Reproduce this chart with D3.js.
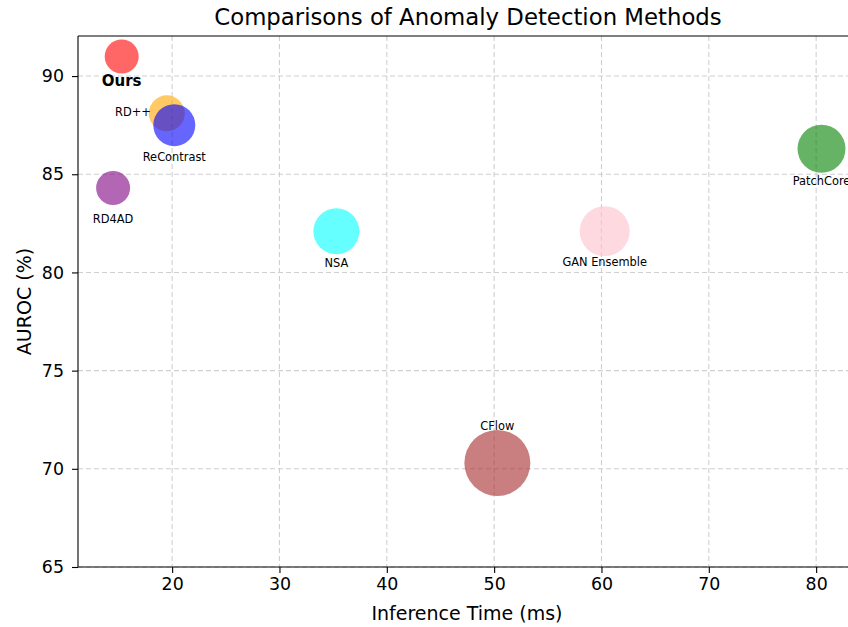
<!DOCTYPE html>
<html>
<head>
<meta charset="utf-8">
<script src="https://cdn.jsdelivr.net/npm/d3@7"></script>
<style>
  html, body { margin: 0; padding: 0; background: #fff; }
  svg { display: block; font-family: "DejaVu Sans", sans-serif; }
</style>
</head>
<body>
<svg id="chart" width="848" height="627"></svg>
<script>
// ---- data ----
const methods = ["Ours", "RD++", "ReContrast", "RD4AD", "NSA", "GAN Ensemble", "PatchCore", "CFlow"];
const inferenceTime = [15.3, 19.5, 20.2, 14.5, 35.3, 60.3, 80.5, 50.3];
const auroc = [91.0, 88.1, 87.5, 84.3, 82.1, 82.1, 86.3, 70.3];
const bubbleSize = [289, 324, 441, 289, 529, 625, 576, 1089];
const colors = ["#ff0000", "#ffa500", "#0000ff", "#800080", "#00ffff", "#ffc0cb", "#008000", "#a52a2a"];
const xTicks = [20, 30, 40, 50, 60, 70, 80];
const yTicks = [65, 70, 75, 80, 85, 90];

// label placement (styling)
const labelStyle = {
  "Ours": { dx: 0, dy: 25, anchor: "middle", bold: true },
  "RD++": { dx: -16, dy: -1.5, anchor: "end" },
  "ReContrast": { dx: 0, dy: 32, anchor: "middle" },
  "RD4AD": { dx: 0, dy: 31, anchor: "middle" },
  "NSA": { dx: 0, dy: 32, anchor: "middle" },
  "GAN Ensemble": { dx: 0, dy: 31, anchor: "middle" },
  "PatchCore": { dx: 0, dy: 32, anchor: "middle" },
  "CFlow": { dx: 0, dy: -37, anchor: "middle" }
};

const svg = d3.select("#chart");
const L = 78, R = 858, T = 36, B = 567;

const x = d3.scaleLinear().domain([11.23, 83.9]).range([L, R]);
const y = d3.scaleLinear().domain([65, 92.04]).range([B, T]);
const r = d3.scaleSqrt().domain([0, 1089]).range([0, 33]);

// grid
const grid = svg.append("g");
grid.selectAll("line.gx").data(xTicks).join("line")
  .attr("x1", d => x(d)).attr("x2", d => x(d)).attr("y1", T).attr("y2", B)
  .attr("stroke", "#cfcfcf").attr("stroke-width", 1.1).attr("stroke-dasharray", "5,3");
grid.selectAll("line.gy").data(yTicks).join("line")
  .attr("y1", d => y(d)).attr("y2", d => y(d)).attr("x1", L).attr("x2", R)
  .attr("stroke", "#cfcfcf").attr("stroke-width", 1.1).attr("stroke-dasharray", "5,3");

// bubbles
const data = methods.map((m, i) => ({ m, t: inferenceTime[i], a: auroc[i], s: bubbleSize[i], c: colors[i] }));
svg.append("defs").append("clipPath").attr("id", "clip")
  .append("rect").attr("x", L).attr("y", T).attr("width", R - L).attr("height", B - T);
svg.append("g").attr("clip-path", "url(#clip)")
  .selectAll("circle").data(data).join("circle")
  .attr("cx", d => x(d.t)).attr("cy", d => y(d.a)).attr("r", d => r(d.s))
  .attr("fill", d => d.c).attr("fill-opacity", 0.6);

// labels
svg.append("g").selectAll("text").data(data).join("text")
  .attr("x", d => x(d.t) + labelStyle[d.m].dx)
  .attr("y", d => y(d.a) + labelStyle[d.m].dy)
  .attr("text-anchor", d => labelStyle[d.m].anchor)
  .attr("dominant-baseline", "central")
  .attr("font-size", d => labelStyle[d.m].bold ? 15 : 11.4)
  .attr("font-weight", d => labelStyle[d.m].bold ? "bold" : "normal")
  .attr("fill", "#000")
  .text(d => d.m);

// axes
const xAxis = d3.axisBottom(x).tickValues(xTicks).tickSize(6).tickPadding(5).tickFormat(d3.format("d"));
const yAxis = d3.axisLeft(y).tickValues(yTicks).tickSize(6).tickPadding(8).tickFormat(d3.format("d"));
const gx = svg.append("g").attr("transform", `translate(0,${B})`).call(xAxis);
const gy = svg.append("g").attr("transform", `translate(${L},0)`).call(yAxis);
[gx, gy].forEach(g => {
  g.select(".domain").remove();
  g.selectAll(".tick line").attr("stroke", "#000").attr("stroke-width", 1.1);
  g.selectAll(".tick text").attr("font-size", 17.4).attr("font-family", "DejaVu Sans").attr("fill", "#000");
});

// spines
const sp = svg.append("g").attr("stroke", "#000").attr("stroke-width", 1.1);
sp.append("line").attr("x1", L).attr("x2", L).attr("y1", T).attr("y2", B);
sp.append("line").attr("x1", L).attr("x2", R).attr("y1", B).attr("y2", B);
sp.append("line").attr("x1", L).attr("x2", R).attr("y1", T).attr("y2", T);
sp.append("line").attr("x1", R).attr("x2", R).attr("y1", T).attr("y2", B);

// titles
svg.append("text").attr("x", (L + R) / 2).attr("y", 25).attr("text-anchor", "middle")
  .attr("font-size", 22.8).text("Comparisons of Anomaly Detection Methods");
svg.append("text").attr("x", (L + R) / 2 - 1).attr("y", 620).attr("text-anchor", "middle")
  .attr("font-size", 19).text("Inference Time (ms)");
svg.append("text").attr("transform", `translate(31,${(T + B) / 2}) rotate(-90)`).attr("text-anchor", "middle")
  .attr("font-size", 19).text("AUROC (%)");
</script>
</body>
</html>
